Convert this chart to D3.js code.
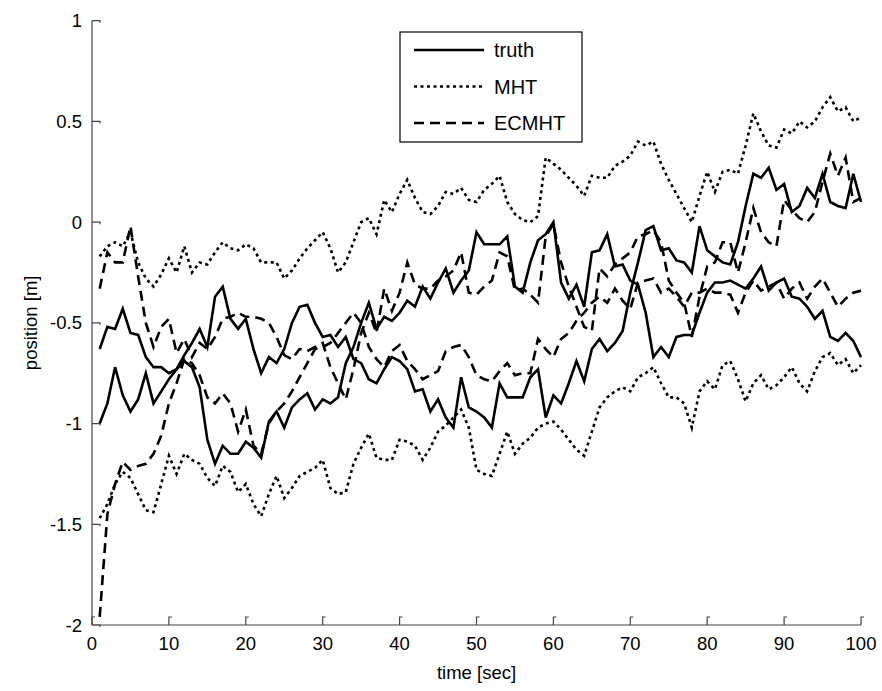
<!DOCTYPE html>
<html>
<head>
<meta charset="utf-8">
<script src="https://cdn.jsdelivr.net/npm/d3@7"></script>
<style>
  body { margin: 0; background: #fff; }
  text { font-family: "Liberation Sans", Arial, sans-serif; }
</style>
</head>
<body>
<script>
// time index, 1..100 sec
const time = d3.range(1, 101);

const truthA = [-0.63,-0.52,-0.53,-0.43,-0.55,-0.56,-0.67,-0.72,-0.72,-0.75,
  -0.73,-0.69,-0.72,-0.82,-1.08,-1.2,-1.11,-1.15,-1.15,-1.09,
  -1.12,-1.17,-0.99,-0.94,-1.02,-0.92,-0.88,-0.85,-0.93,-0.88,
  -0.9,-0.87,-0.7,-0.62,-0.5,-0.4,-0.53,-0.47,-0.49,-0.45,
  -0.39,-0.42,-0.32,-0.38,-0.3,-0.23,-0.35,-0.29,-0.24,-0.05,
  -0.11,-0.11,-0.11,-0.07,-0.32,-0.35,-0.2,-0.09,-0.06,0.0,
  -0.3,-0.38,-0.31,-0.42,-0.15,-0.14,-0.06,-0.22,-0.21,-0.29,
  -0.31,-0.45,-0.67,-0.62,-0.67,-0.57,-0.56,-0.56,-0.45,-0.35,
  -0.3,-0.3,-0.29,-0.31,-0.33,-0.28,-0.22,-0.34,-0.3,-0.28,
  -0.37,-0.38,-0.42,-0.48,-0.44,-0.57,-0.59,-0.55,-0.59,-0.67];

const truthB = [-1.0,-0.9,-0.72,-0.86,-0.94,-0.88,-0.75,-0.9,-0.84,-0.78,
  -0.73,-0.66,-0.6,-0.53,-0.62,-0.37,-0.32,-0.48,-0.53,-0.48,
  -0.63,-0.75,-0.67,-0.7,-0.63,-0.5,-0.42,-0.41,-0.5,-0.57,
  -0.56,-0.62,-0.57,-0.68,-0.7,-0.78,-0.8,-0.73,-0.67,-0.69,
  -0.73,-0.84,-0.83,-0.94,-0.88,-0.97,-1.02,-0.77,-0.92,-0.94,
  -0.97,-1.02,-0.8,-0.87,-0.87,-0.87,-0.77,-0.73,-0.97,-0.86,
  -0.9,-0.8,-0.69,-0.79,-0.63,-0.58,-0.64,-0.6,-0.54,-0.35,
  -0.2,-0.04,-0.02,-0.14,-0.13,-0.19,-0.2,-0.25,-0.02,-0.14,
  -0.17,-0.2,-0.21,-0.1,0.08,0.24,0.22,0.27,0.16,0.19,
  0.05,0.08,0.17,0.12,0.24,0.1,0.08,0.07,0.24,0.1];

const mhtA = [-0.17,-0.12,-0.1,-0.12,-0.05,-0.2,-0.28,-0.32,-0.26,-0.18,
  -0.25,-0.12,-0.25,-0.2,-0.21,-0.15,-0.1,-0.13,-0.14,-0.11,
  -0.13,-0.2,-0.2,-0.2,-0.28,-0.24,-0.18,-0.13,-0.09,-0.05,
  -0.13,-0.25,-0.2,-0.1,0.0,0.02,-0.06,0.11,0.05,0.14,
  0.21,0.12,0.05,0.04,0.08,0.15,0.14,0.17,0.11,0.1,
  0.16,0.19,0.23,0.1,0.04,0.01,0.0,0.03,0.32,0.29,
  0.26,0.22,0.18,0.13,0.23,0.22,0.22,0.28,0.3,0.33,
  0.4,0.38,0.4,0.29,0.21,0.14,0.07,0.0,0.13,0.25,
  0.15,0.25,0.26,0.24,0.38,0.54,0.45,0.38,0.37,0.46,
  0.44,0.5,0.47,0.5,0.57,0.62,0.55,0.57,0.5,0.52];

const mhtB = [-1.47,-1.4,-1.3,-1.24,-1.27,-1.35,-1.43,-1.44,-1.3,-1.16,
  -1.25,-1.15,-1.18,-1.2,-1.27,-1.31,-1.21,-1.24,-1.34,-1.3,
  -1.4,-1.46,-1.35,-1.26,-1.37,-1.32,-1.26,-1.24,-1.22,-1.18,
  -1.32,-1.35,-1.34,-1.2,-1.12,-1.05,-1.17,-1.18,-1.18,-1.08,
  -1.09,-1.11,-1.18,-1.12,-1.04,-1.01,-0.97,-0.93,-1.02,-1.23,
  -1.25,-1.26,-1.15,-1.04,-1.15,-1.1,-1.07,-1.02,-1.0,-0.99,
  -1.03,-1.08,-1.13,-1.16,-1.04,-0.92,-0.87,-0.84,-0.82,-0.84,
  -0.77,-0.75,-0.72,-0.8,-0.87,-0.87,-0.9,-1.02,-0.84,-0.79,
  -0.83,-0.71,-0.69,-0.78,-0.89,-0.8,-0.76,-0.83,-0.81,-0.77,
  -0.72,-0.8,-0.84,-0.74,-0.67,-0.65,-0.71,-0.68,-0.75,-0.71];

const ecmhtA = [-0.33,-0.15,-0.2,-0.2,-0.02,-0.27,-0.5,-0.62,-0.52,-0.48,
  -0.65,-0.58,-0.67,-0.6,-0.63,-0.57,-0.48,-0.47,-0.45,-0.47,
  -0.47,-0.48,-0.5,-0.57,-0.66,-0.68,-0.63,-0.64,-0.62,-0.6,
  -0.72,-0.8,-0.88,-0.73,-0.55,-0.45,-0.55,-0.33,-0.44,-0.35,
  -0.2,-0.31,-0.33,-0.33,-0.29,-0.27,-0.24,-0.15,-0.35,-0.36,
  -0.32,-0.29,-0.15,-0.17,-0.34,-0.33,-0.36,-0.4,-0.07,-0.01,
  -0.2,-0.32,-0.42,-0.52,-0.54,-0.23,-0.27,-0.21,-0.18,-0.15,
  -0.07,-0.06,-0.04,-0.1,-0.29,-0.35,-0.4,-0.57,-0.37,-0.22,
  -0.2,-0.1,-0.1,-0.25,-0.1,0.07,-0.05,-0.1,-0.12,0.11,
  0.06,0.02,0.0,0.05,0.2,0.34,0.23,0.32,0.1,0.12];

const ecmhtB = [-1.96,-1.45,-1.3,-1.19,-1.23,-1.21,-1.2,-1.15,-1.06,-0.9,
  -0.8,-0.68,-0.7,-0.76,-0.87,-0.9,-0.85,-0.9,-1.04,-0.93,
  -1.11,-1.15,-1.0,-0.94,-0.9,-0.84,-0.77,-0.7,-0.63,-0.62,
  -0.6,-0.55,-0.5,-0.45,-0.5,-0.62,-0.68,-0.72,-0.64,-0.61,
  -0.69,-0.73,-0.78,-0.76,-0.74,-0.64,-0.62,-0.61,-0.67,-0.76,
  -0.78,-0.79,-0.74,-0.7,-0.76,-0.75,-0.75,-0.58,-0.63,-0.67,
  -0.58,-0.55,-0.49,-0.45,-0.4,-0.37,-0.4,-0.33,-0.39,-0.43,
  -0.3,-0.29,-0.28,-0.35,-0.33,-0.37,-0.42,-0.35,-0.35,-0.33,
  -0.35,-0.35,-0.36,-0.45,-0.35,-0.29,-0.34,-0.32,-0.3,-0.38,
  -0.33,-0.3,-0.38,-0.32,-0.28,-0.35,-0.42,-0.38,-0.35,-0.34];

const xTicks = [0, 10, 20, 30, 40, 50, 60, 70, 80, 90, 100];
const yTicks = [-2, -1.5, -1, -0.5, 0, 0.5, 1];

const legendNames = ["truth", "MHT", "ECMHT"];
const dashes = { truth: null, MHT: "3,3.5", ECMHT: "10,6" };

const width = 882, height = 691;
const svg = d3.select("body").append("svg")
  .attr("width", width).attr("height", height);

const x = d3.scaleLinear().domain([0, 100]).range([92, 861]);
const y = d3.scaleLinear().domain([-2, 1]).range([625, 20.7]);

const line = d3.line()
  .x((d, i) => x(time[i]))
  .y(d => y(d));

const series = [
  { name: "MHT", values: mhtA },
  { name: "MHT", values: mhtB },
  { name: "ECMHT", values: ecmhtA },
  { name: "ECMHT", values: ecmhtB },
  { name: "truth", values: truthA },
  { name: "truth", values: truthB }
];

svg.append("g")
  .selectAll("path")
  .data(series)
  .enter()
  .append("path")
  .attr("d", d => line(d.values))
  .attr("fill", "none")
  .attr("stroke", "#000")
  .attr("stroke-width", 2.6)
  .attr("stroke-linejoin", "miter")
  .attr("stroke-dasharray", d => dashes[d.name]);

// axes, MATLAB style (no box)
const axisColor = "#444";
const ax = svg.append("g");
ax.append("line")
  .attr("x1", x(0)).attr("x2", x(100))
  .attr("y1", y(-2)).attr("y2", y(-2))
  .attr("stroke", axisColor).attr("stroke-width", 1.2);
ax.append("line")
  .attr("x1", x(0)).attr("x2", x(0))
  .attr("y1", y(-2)).attr("y2", y(1))
  .attr("stroke", axisColor).attr("stroke-width", 1.2);

ax.selectAll(".xt")
  .data(xTicks)
  .enter()
  .append("path")
  .attr("d", d => `M${x(d)},${y(-2)}V${y(-2) - 8}h3`)
  .attr("fill", "none").attr("stroke", axisColor).attr("stroke-width", 1.2);

ax.selectAll(".yt")
  .data(yTicks)
  .enter()
  .append("path")
  .attr("d", d => `M${x(0)},${y(d)}H${x(0) + 8}v2`)
  .attr("fill", "none").attr("stroke", axisColor).attr("stroke-width", 1.2);

ax.selectAll(".xl")
  .data(xTicks)
  .enter()
  .append("text")
  .attr("x", d => x(d))
  .attr("y", y(-2) + 25)
  .attr("text-anchor", "middle")
  .attr("font-size", 18.5)
  .text(d => d);

ax.selectAll(".yl")
  .data(yTicks)
  .enter()
  .append("text")
  .attr("x", x(0) - 10)
  .attr("y", d => y(d) + 6.5)
  .attr("text-anchor", "end")
  .attr("font-size", 18.5)
  .text(d => d);

svg.append("text")
  .attr("x", (x(0) + x(100)) / 2)
  .attr("y", 679)
  .attr("text-anchor", "middle")
  .attr("font-size", 18.5)
  .text("time [sec]");

svg.append("text")
  .attr("transform", `translate(37,${y(-0.5)}) rotate(-90)`)
  .attr("text-anchor", "middle")
  .attr("font-size", 18.5)
  .text("position [m]");

// legend
const lg = svg.append("g").attr("transform", "translate(400,32)");
lg.append("rect")
  .attr("width", 182).attr("height", 110)
  .attr("fill", "#fff").attr("stroke", "#000").attr("stroke-width", 1.2);
const rows = lg.selectAll(".row")
  .data(legendNames)
  .enter()
  .append("g")
  .attr("transform", (d, i) => `translate(0,${18 + i * 36.5})`);
rows.append("line")
  .attr("x1", 14).attr("x2", 84)
  .attr("stroke", "#000").attr("stroke-width", 2.6)
  .attr("stroke-dasharray", d => dashes[d]);
rows.append("text")
  .attr("x", 94).attr("y", 7)
  .attr("font-size", 20)
  .text(d => d);
</script>
</body>
</html>
